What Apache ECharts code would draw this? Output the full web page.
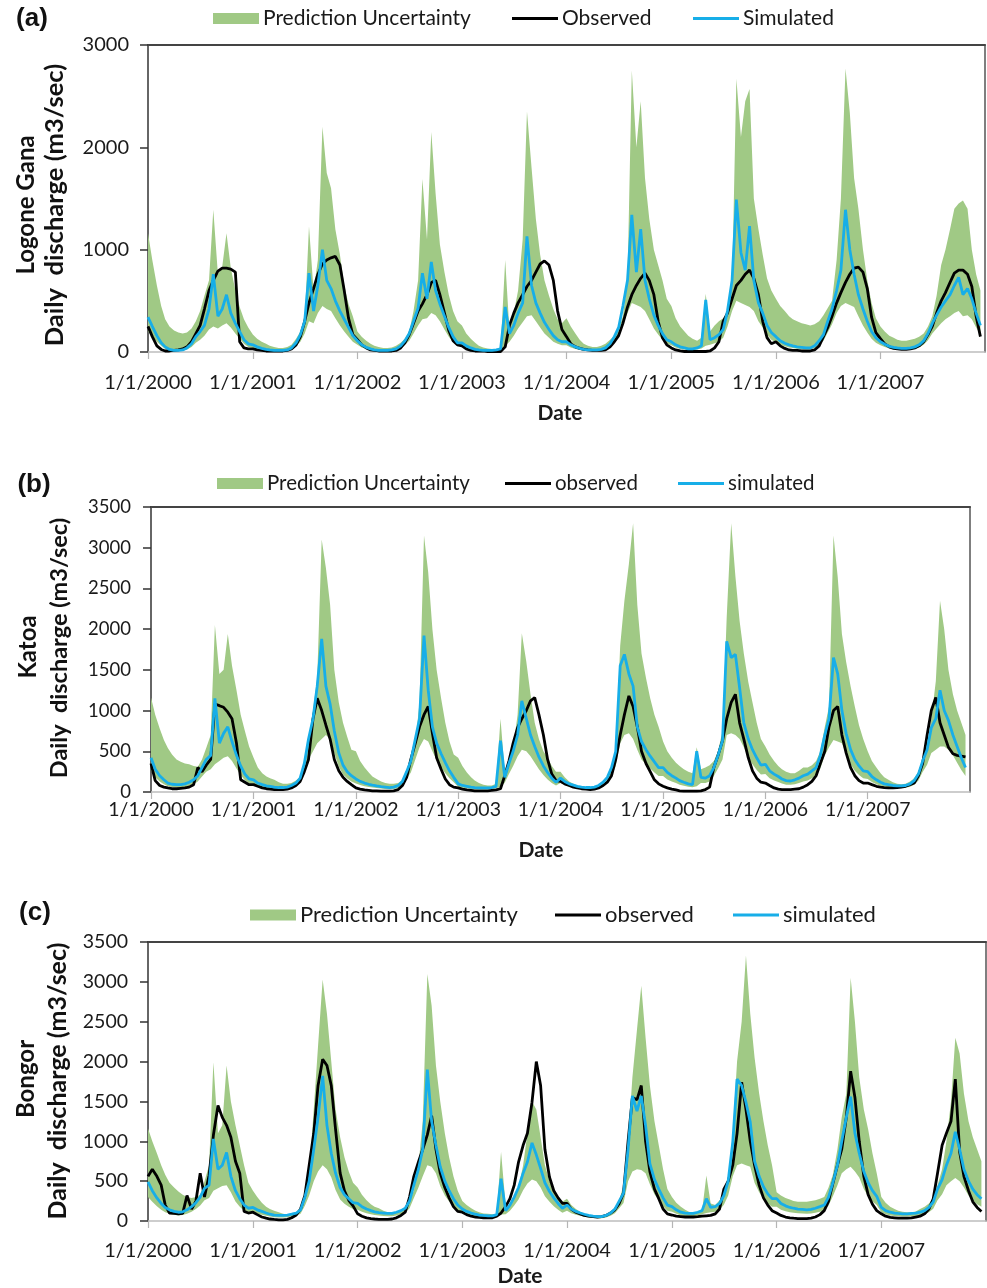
<!DOCTYPE html>
<html>
<head>
<meta charset="utf-8">
<script src="https://cdn.jsdelivr.net/npm/echarts@6/dist/echarts.min.js"></script>
<style>
html,body{margin:0;padding:0;background:#fff;}
#chart{width:987px;height:1288px;}
</style>
</head>
<body>
<div id="chart"></div>
<script>
// ---------------- DATA ----------------
const years = [2000, 2001, 2002, 2003, 2004, 2005, 2006, 2007];
const halfMonthDays = ['01-01','01-16','02-01','02-16','03-01','03-16','04-01','04-16','05-01','05-16','06-01','06-16',
                       '07-01','07-16','08-01','08-16','09-01','09-16','10-01','10-16','11-01','11-16','12-01','12-16'];
const xTickLabels = ['1/1/2000','1/1/2001','1/1/2002','1/1/2003','1/1/2004','1/1/2005','1/1/2006','1/1/2007'];
const yTicksGana = [0, 1000, 2000, 3000];
const yTicksKatoa = [0, 500, 1000, 1500, 2000, 2500, 3000, 3500];
const yTicksBongor = [0, 500, 1000, 1500, 2000, 2500, 3000, 3500];
const legendGana = ['Prediction Uncertainty', 'Observed', 'Simulated'];
const legendKatoa = ['Prediction Uncertainty', 'observed', 'simulated'];
const legendBongor = ['Prediction Uncertainty', 'observed', 'simulated'];
const stationNames = ['Logone Gana', 'Katoa', 'Bongor'];
const yTitle = 'Daily  discharge (m3/sec)';
const panelLetters = ['(a)', '(b)', '(c)'];
const xTitle = 'Date';

// (a) Logone Gana, semi-monthly values (one row per year)
const ganaUpper = [
 1160,900,650,450,320,250,210,190,180,190,230,300,400,550,700,1390,760,830,1160,820,600,440,320,240,
 170,130,100,80,60,50,40,40,50,70,130,200,300,1230,600,900,2200,1750,1600,1200,950,650,470,350,
 200,150,110,80,60,50,40,40,45,60,90,130,200,400,700,1690,1100,2150,1550,1050,780,560,400,300,
 260,180,130,90,60,45,35,30,30,40,900,200,380,600,1100,2350,1800,1300,950,700,550,420,320,280,
 330,250,180,120,80,60,50,50,60,80,120,160,220,350,700,2750,2000,2450,1700,1300,1000,850,700,520,
 450,330,250,200,160,130,110,140,570,200,260,300,330,380,650,2670,2100,2450,2570,1500,1200,950,720,600,
 520,450,400,350,320,300,280,270,260,270,300,360,430,500,900,1500,2770,2340,1700,1400,1000,700,480,330,
 250,200,160,140,120,110,110,120,130,150,180,250,350,550,850,1000,1200,1400,1450,1480,1400,1000,760,600
];
const ganaLower = [
 200,150,100,60,30,15,10,10,12,25,50,90,120,160,220,250,230,260,280,240,180,130,80,50,
 40,30,20,15,12,10,10,10,12,25,55,100,180,300,280,380,450,420,400,330,260,200,150,100,
 70,45,30,20,12,10,10,10,12,20,40,70,110,180,260,320,330,380,360,300,220,150,95,60,
 55,40,25,15,12,10,10,10,12,20,60,100,160,230,290,350,360,300,240,180,140,100,80,65,
 65,45,30,22,15,12,12,12,15,25,50,90,150,270,380,480,460,440,400,320,230,170,120,80,
 65,45,30,25,20,20,25,35,60,70,85,100,140,250,400,500,480,460,440,400,300,240,170,120,
 95,70,55,45,38,32,28,25,25,38,70,110,190,270,380,450,480,460,440,350,260,190,130,90,
 65,48,35,28,25,22,22,25,32,45,70,115,180,230,280,320,350,380,400,350,360,320,240,170
];
const ganaObserved = [
 250,150,60,25,10,10,15,20,30,50,100,180,260,420,600,700,790,820,820,810,780,100,40,30,
 30,20,15,10,10,10,10,10,15,30,70,150,300,480,620,760,860,900,920,935,850,600,330,170,
 120,70,40,20,15,10,10,10,10,15,40,90,170,280,400,470,560,680,700,560,380,210,110,70,
 60,30,15,10,10,10,5,5,5,5,50,260,380,480,560,640,700,780,860,890,850,700,400,220,
 150,80,50,35,25,20,15,15,15,20,50,100,160,280,440,560,650,720,770,700,560,300,140,70,
 40,20,10,5,5,5,5,5,5,10,40,100,300,380,520,650,700,760,800,720,560,300,140,80,
 100,60,35,20,15,15,10,10,10,20,60,150,240,350,480,580,680,760,820,830,780,620,340,190,
 130,80,50,35,30,25,25,30,40,60,100,170,250,380,500,580,680,770,800,800,760,640,350,150
];
const ganaSimulated = [
 340,250,160,90,50,25,15,15,20,40,80,150,200,260,420,760,350,420,560,380,280,200,120,80,
 70,50,35,25,20,15,15,15,20,40,90,170,300,770,400,650,1000,700,620,500,400,320,240,160,
 110,70,45,30,20,15,15,15,20,30,60,110,180,300,430,770,520,880,600,470,350,240,150,90,
 90,60,40,25,20,15,15,15,20,30,440,180,260,380,480,1130,650,480,380,290,220,160,120,100,
 100,70,50,35,25,20,20,20,25,40,80,150,240,450,700,1340,780,1200,700,520,360,260,180,120,
 100,70,50,40,30,30,40,60,510,120,140,170,220,400,700,1490,970,800,1230,700,480,380,260,190,
 150,110,85,70,60,50,45,40,40,60,110,170,300,420,600,800,1390,1000,760,560,420,300,200,140,
 100,75,55,45,40,35,35,40,50,70,110,180,280,360,440,500,560,650,730,560,620,520,380,260
];

// (b) Katoa
const katoaUpper = [
 1160,950,780,640,540,460,400,370,350,340,320,310,400,540,700,2050,1450,1500,1940,1550,1250,950,750,560,
 420,300,230,190,170,150,120,100,100,110,140,180,300,600,1000,1400,3100,2750,2300,1500,1100,850,680,520,
 500,380,300,240,190,160,130,110,100,100,110,150,250,350,600,1100,3150,2700,2000,1500,1150,850,620,460,
 420,320,240,180,140,110,90,80,80,100,900,250,360,550,950,1950,1600,1200,850,650,500,420,320,250,
 250,180,130,100,80,60,45,40,40,60,100,150,300,500,1800,2350,2800,3300,2300,1700,1400,1150,950,800,
 620,500,420,360,320,280,250,230,550,280,300,330,380,500,750,2150,3300,2650,2100,1700,1350,1100,850,650,
 560,460,380,320,280,250,230,230,260,300,300,330,380,500,800,1050,3150,2640,1940,1600,1300,1050,820,650,
 500,380,300,230,180,150,120,100,95,100,130,170,250,400,550,900,1360,2350,2000,1500,1200,1000,850,700
];
const katoaLower = [
 260,180,130,95,70,60,55,55,62,75,95,130,190,250,280,340,380,420,440,380,290,210,145,105,
 100,72,58,48,45,38,35,35,38,50,70,110,220,400,500,600,650,700,650,480,310,215,165,130,
 105,85,72,62,55,48,42,38,35,38,50,85,160,240,400,550,650,620,500,390,300,230,170,120,
 65,52,45,38,35,32,32,32,35,45,60,115,220,320,440,520,500,440,360,280,210,155,110,80,
 110,85,65,55,45,38,35,35,38,50,78,115,190,320,600,700,720,650,520,400,340,290,240,195,
 195,155,130,110,90,78,65,58,70,110,110,130,195,290,400,700,720,700,650,550,420,340,270,215,
 220,170,140,122,104,90,88,95,110,130,142,170,195,290,450,550,640,620,600,470,340,260,210,170,
 160,122,96,78,65,58,52,48,48,52,65,90,140,245,335,480,520,560,560,520,450,360,270,195
];
const katoaObserved = [
 350,140,80,60,50,40,40,45,50,60,90,300,250,330,400,1080,1060,1040,980,900,600,150,120,90,
 90,70,50,40,35,30,30,30,35,50,80,130,250,400,900,1150,1000,820,650,400,260,180,130,90,
 50,35,25,20,15,15,10,10,10,15,30,80,180,400,600,800,950,1050,720,420,280,160,90,60,
 50,35,25,20,15,15,15,15,20,25,40,200,380,600,790,900,1000,1120,1160,950,700,400,220,140,
 130,100,80,60,50,40,35,30,35,50,80,120,200,400,700,950,1180,1050,800,500,350,250,150,100,
 70,50,35,25,15,10,10,10,10,15,30,60,300,450,630,900,1100,1200,850,650,420,260,170,120,
 110,80,50,35,30,30,30,35,40,60,90,130,200,350,500,800,1000,1050,700,480,300,200,140,110,
 110,90,70,60,55,50,50,55,60,70,90,110,200,350,700,1000,1160,850,700,550,470,450,440,430
];
const katoaSimulated = [
 420,280,200,150,110,95,90,90,100,120,150,200,300,400,450,1150,600,720,800,620,450,320,220,160,
 150,110,90,75,70,60,55,55,60,80,110,170,350,650,900,1300,1880,1300,1080,750,480,330,250,200,
 160,130,110,95,85,75,65,60,55,60,80,130,250,380,650,900,1920,1250,800,600,470,360,260,180,
 100,80,70,60,55,50,50,50,55,70,630,180,350,500,700,1120,900,700,560,430,320,240,170,120,
 170,130,100,85,70,60,55,55,60,80,120,180,300,500,1550,1690,1450,1300,800,620,520,440,370,300,
 300,240,200,170,140,120,100,90,500,180,170,200,300,450,630,1850,1650,1690,1280,850,650,520,420,330,
 340,260,220,190,160,140,135,150,170,200,220,260,300,450,700,900,1650,1450,1000,720,520,400,320,260,
 250,190,150,120,100,90,80,75,75,80,100,140,220,380,520,790,900,1250,1000,880,700,560,420,300
];

// (c) Bongor
const bongorUpper = [
 1160,1000,850,700,580,480,420,370,330,300,290,300,330,500,700,1990,1100,1200,1950,1500,1200,950,700,480,
 380,300,230,180,150,130,110,90,80,90,110,140,250,600,1400,2200,3030,2600,2000,1400,1050,800,620,480,
 420,330,260,210,180,160,130,110,100,110,130,160,260,380,700,1250,3100,2700,1950,1500,1100,800,560,380,
 250,200,160,130,110,95,90,85,85,870,200,180,300,420,700,1100,1500,1400,1050,700,500,380,300,240,
 280,200,150,115,90,70,60,55,55,70,110,160,260,450,1000,1800,2400,2950,2300,1700,1250,950,650,400,
 300,230,180,140,115,100,110,130,570,220,200,260,330,500,1100,2000,2500,3330,2600,2050,1600,1250,950,700,
 360,320,290,270,250,240,240,240,250,260,280,300,420,580,900,1300,1600,3050,2500,1800,1400,1150,850,600,
 300,230,180,150,130,115,110,110,120,150,180,220,290,450,650,1000,1500,2300,2100,1600,1250,1050,900,750
];
const bongorLower = [
 300,240,185,140,110,90,78,70,74,90,115,150,195,260,290,380,410,440,450,360,245,180,130,100,
 110,90,78,65,55,48,45,45,48,55,65,90,190,320,500,620,700,650,550,390,270,215,180,150,
 140,115,96,84,74,68,64,60,60,70,84,104,160,290,420,560,700,680,600,440,320,245,180,130,
 96,78,64,55,48,45,42,42,52,80,84,128,195,270,385,470,520,500,420,310,240,185,140,104,
 130,96,78,65,55,45,38,35,35,45,65,96,160,225,500,620,650,640,600,460,335,260,185,130,
 115,90,70,64,60,60,70,84,100,110,116,140,205,320,560,700,720,700,680,480,360,275,220,180,
 180,140,122,110,102,96,93,90,93,102,115,130,195,310,450,600,650,680,620,545,400,310,245,200,
 110,84,70,64,60,58,58,60,64,70,84,110,155,260,335,450,500,540,500,420,320,255,210,180
];
const bongorObserved = [
 560,650,560,450,200,100,95,90,95,320,150,250,600,300,575,1075,1450,1300,1200,1050,750,600,120,100,
 110,80,50,35,25,20,15,15,20,40,75,150,320,700,1100,1700,2030,1950,1700,1150,600,380,260,190,
 90,60,40,30,25,20,20,20,25,40,70,110,300,560,740,900,1080,1320,900,600,420,290,180,120,
 110,80,60,50,45,40,40,40,60,100,180,280,450,740,950,1100,1490,2000,1700,900,550,380,290,220,
 220,150,110,90,70,60,55,50,55,70,100,140,220,350,1000,1550,1520,1700,1000,620,400,280,150,90,
 75,60,55,50,50,50,55,60,65,70,90,150,400,500,700,1100,1740,1400,1000,700,450,290,200,130,
 100,70,50,40,35,30,30,30,35,50,80,130,250,470,700,900,1300,1880,1550,1000,560,330,210,130,
 90,60,45,40,35,35,35,40,50,60,90,150,280,600,950,1100,1250,1780,870,560,380,240,170,120
];
const bongorSimulated = [
 490,380,290,220,170,140,120,110,115,140,180,230,300,410,450,1030,650,700,860,560,380,280,200,160,
 170,140,120,100,85,75,70,70,75,85,100,140,300,500,900,1300,1820,1200,850,600,420,330,280,230,
 220,180,150,130,115,105,100,95,95,110,130,160,250,450,650,900,1900,1250,950,680,500,380,280,200,
 150,120,100,85,75,70,65,65,80,530,130,200,300,420,600,740,980,830,660,480,370,290,220,160,
 200,150,120,100,85,70,60,55,55,70,100,150,250,350,900,1570,1380,1570,1200,720,520,400,290,200,
 180,140,110,100,95,95,110,130,280,170,180,220,320,500,990,1780,1700,1490,1240,750,560,430,340,280,
 280,220,190,170,160,150,145,140,145,160,180,200,300,480,700,1000,1300,1560,1100,850,620,480,380,310,
 170,130,110,100,95,90,90,95,100,110,130,170,240,400,520,700,850,1120,900,650,500,400,330,280
];

// ---------------- BUILD ----------------
const dates = [];
years.forEach(y => halfMonthDays.forEach(md => dates.push(y + '-' + md)));

const GREEN = '#a0c985';
const BLUE = '#17aee8';
const FONT = 'Lato';

const panels = [
  { upper: ganaUpper, lower: ganaLower, obs: ganaObserved, sim: ganaSimulated, yTicks: yTicksGana, legend: legendGana,
    grid: { left: 148, top: 45, width: 837, height: 307 },
    yFont: 20, xFont: 20, xMargin: 21, yMargin: 19,
    legendPos: [213, 512, 693], legendY: 19, legendFont: 21,
    letterPos: [32, 19], titlePos: [[26, 205], [55, 205]], titleFont: [24, 25.5], datePos: [560, 413] },
  { upper: katoaUpper, lower: katoaLower, obs: katoaObserved, sim: katoaSimulated, yTicks: yTicksKatoa, legend: legendKatoa,
    grid: { left: 151, top: 507, width: 819, height: 285 },
    yFont: 18.5, xFont: 19.5, xMargin: 8, yMargin: 20,
    legendPos: [217, 505, 678], legendY: 484, legendFont: 20.5,
    letterPos: [34, 485], titlePos: [[28, 647], [59, 648]], titleFont: [24, 23.5], datePos: [541, 850] },
  { upper: bongorUpper, lower: bongorLower, obs: bongorObserved, sim: bongorSimulated, yTicks: yTicksBongor, legend: legendBongor,
    grid: { left: 148, top: 942, width: 838, height: 279 },
    yFont: 19.5, xFont: 20, xMargin: 20, yMargin: 20,
    legendPos: [250, 555, 733], legendY: 915, legendFont: 22,
    letterPos: [35, 913], titlePos: [[26, 1079], [58, 1081]], titleFont: [24, 25], datePos: [520, 1276] }
];

const tMin = new Date(2000, 0, 1).getTime();
const tMax = new Date(2008, 0, 1).getTime();
const DAY = 86400000;

function xLabel(v) {
  const d = new Date(v);
  const i = d.getFullYear() - years[0];
  if (d.getMonth() === 0 && d.getDate() === 1 && i >= 0 && i < xTickLabels.length) return xTickLabels[i];
  return '';
}
function pairs(vals) { return dates.map((d, i) => [d, vals[i]]); }

const grids = [], xAxes = [], yAxes = [], series = [], legends = [], graphics = [];
const lineIcon = 'path://M0,0H46V3H0Z';

panels.forEach((p, i) => {
  grids.push(Object.assign({ containLabel: false }, p.grid));
  const yMax = p.yTicks[p.yTicks.length - 1];
  const yInt = p.yTicks[1] - p.yTicks[0];
  xAxes[i] = {
    type: 'time', gridIndex: i, min: tMin, max: tMax, splitNumber: 8,
    minInterval: 365 * DAY, maxInterval: 366 * DAY,
    axisLine: { show: true, onZero: false, lineStyle: { color: '#bdbdbd', width: 1.5 } },
    axisTick: { show: true, length: 7, lineStyle: { color: '#b5b5b5', width: 1.2 } },
    minorTick: { show: false },
    splitLine: { show: false },
    axisLabel: { show: true, formatter: xLabel, showMaxLabel: false, showMinLabel: true, hideOverlap: false,
                 fontFamily: FONT, fontSize: p.xFont, color: '#1a1a1a', fontWeight: 'normal', margin: p.xMargin }
  };
  xAxes[3 + i] = {
    type: 'time', gridIndex: i, position: 'top', min: tMin, max: tMax,
    axisLine: { show: true, onZero: false, lineStyle: { color: '#444', width: 2 } },
    axisTick: { show: false }, axisLabel: { show: false }, splitLine: { show: false }
  };
  yAxes[i] = {
    type: 'value', gridIndex: i, position: 'left', min: 0, max: yMax, interval: yInt,
    axisLine: { show: true, onZero: false, lineStyle: { color: '#333', width: 1.5 } },
    axisTick: { show: true, length: 8, lineStyle: { color: '#333', width: 1.5 } },
    splitLine: { show: false },
    axisLabel: { fontFamily: FONT, fontSize: p.yFont, color: '#1a1a1a', margin: p.yMargin, formatter: v => String(v) }
  };
  yAxes[3 + i] = {
    type: 'value', gridIndex: i, position: 'right', min: 0, max: yMax, interval: yInt,
    axisLine: { show: true, onZero: false, lineStyle: { color: '#555', width: 1.5 } },
    axisTick: { show: false }, axisLabel: { show: false }, splitLine: { show: false }
  };

  const stackId = 'band' + i;
  series.push({
    name: 'lower-' + i, type: 'line', xAxisIndex: i, yAxisIndex: i, stack: stackId,
    data: pairs(p.lower), symbol: 'none', silent: true, z: 1,
    lineStyle: { width: 0, opacity: 0 }, areaStyle: { opacity: 0 }
  });
  series.push({
    name: p.legend[0], type: 'line', xAxisIndex: i, yAxisIndex: i, stack: stackId,
    data: dates.map((d, k) => [d, p.upper[k] - p.lower[k]]), symbol: 'none', z: 2,
    itemStyle: { color: GREEN }, lineStyle: { width: 0, color: GREEN }, areaStyle: { color: GREEN, opacity: 1 }
  });
  series.push({
    name: p.legend[1], type: 'line', xAxisIndex: i, yAxisIndex: i,
    data: pairs(p.obs), symbol: 'none', z: 3,
    itemStyle: { color: '#000' }, lineStyle: { width: 2.8, color: '#000' }
  });
  series.push({
    name: p.legend[2], type: 'line', xAxisIndex: i, yAxisIndex: i,
    data: pairs(p.sim), symbol: 'none', z: 4,
    itemStyle: { color: BLUE }, lineStyle: { width: 2.8, color: BLUE }
  });

  const icons = ['rect', lineIcon, lineIcon];
  p.legend.forEach((name, k) => {
    legends.push({
      left: p.legendPos[k], top: p.legendY - 11, padding: 0, itemGap: 0,
      itemWidth: 46, itemHeight: 11, selectedMode: false,
      data: [{ name: name, icon: icons[k] }],
      textStyle: { fontFamily: FONT, fontSize: p.legendFont, color: '#1a1a1a', padding: [0, 0, 0, -1] }
    });
  });

  graphics.push({ type: 'text', x: p.letterPos[0], y: p.letterPos[1],
    style: { text: panelLetters[i], font: 'bold 26px "Liberation Sans", Arial, sans-serif', fill: '#111', align: 'center', verticalAlign: 'middle' } });
  graphics.push({ type: 'text', x: p.titlePos[0][0], y: p.titlePos[0][1], rotation: Math.PI / 2,
    style: { text: stationNames[i], font: 'bold ' + p.titleFont[0] + 'px ' + FONT, fill: '#111', align: 'center', verticalAlign: 'middle' } });
  graphics.push({ type: 'text', x: p.titlePos[1][0], y: p.titlePos[1][1], rotation: Math.PI / 2,
    style: { text: yTitle, font: 'bold ' + p.titleFont[1] + 'px ' + FONT, fill: '#111', align: 'center', verticalAlign: 'middle' } });
  graphics.push({ type: 'text', x: p.datePos[0], y: p.datePos[1],
    style: { text: xTitle, font: 'bold 21px ' + FONT, fill: '#1a1a1a', align: 'center', verticalAlign: 'middle' } });
});

const chart = echarts.init(document.getElementById('chart'), null, { renderer: 'canvas' });
chart.setOption({
  backgroundColor: '#fff',
  animation: false,
  tooltip: { show: false },
  grid: grids,
  xAxis: xAxes,
  yAxis: yAxes,
  legend: legends,
  series: series,
  graphic: graphics
});
</script>
</body>
</html>
